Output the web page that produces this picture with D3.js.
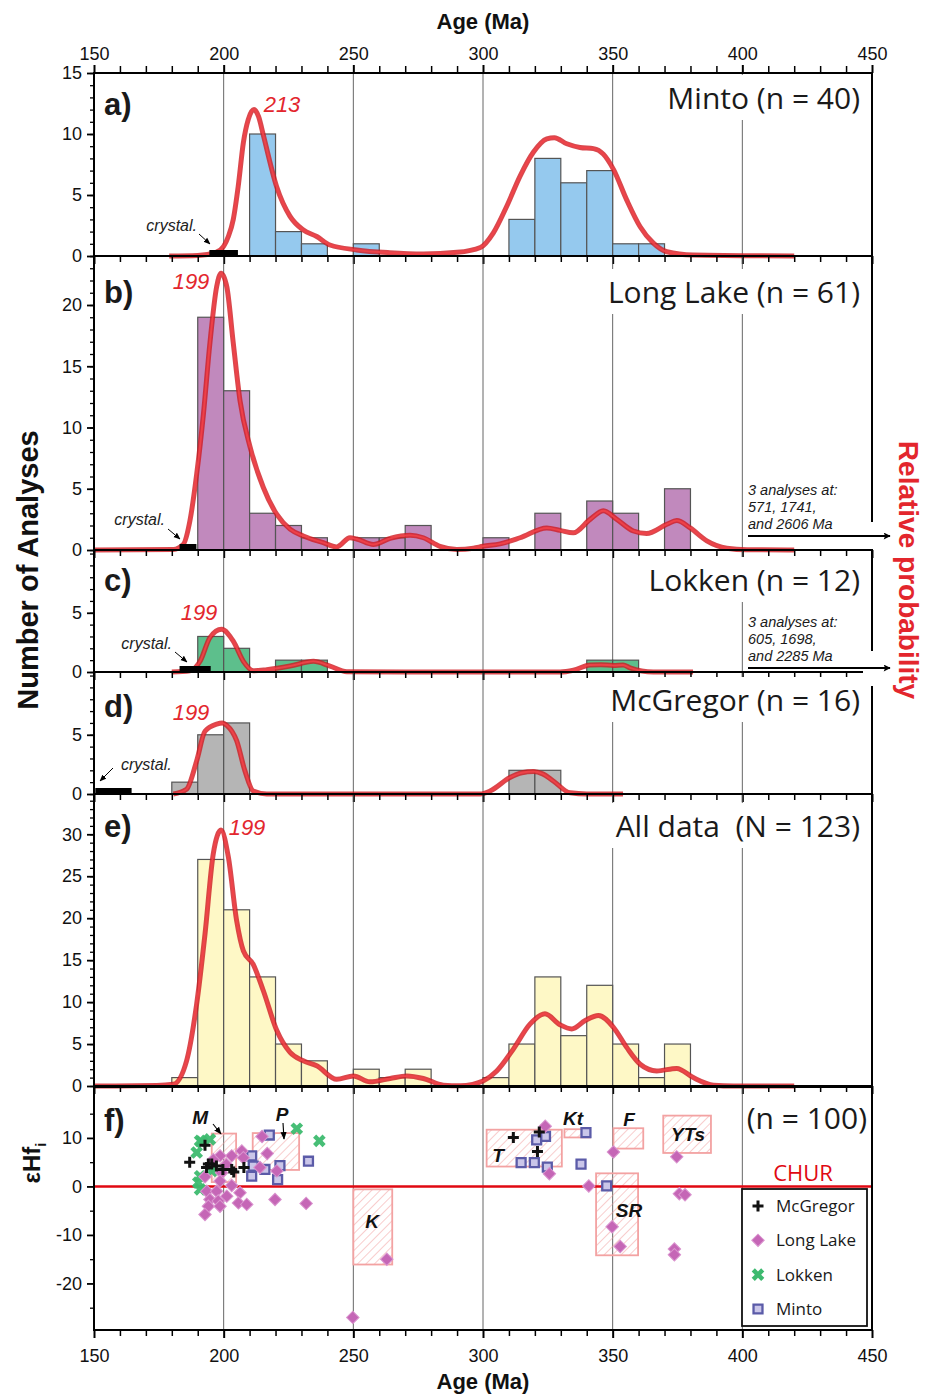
<!DOCTYPE html>
<html>
<head>
<meta charset="utf-8">
<script src="https://cdn.jsdelivr.net/npm/d3@7"></script>
<style>
  body { margin: 0; background: #fff; }
  svg { display: block; }
  text { font-family: "Liberation Sans", Arial, sans-serif; }
</style>
</head>
<body>
<svg id="chart" width="932" height="1395"></svg>
<script>
// ---- data ----
const ageTicks = [150, 200, 250, 300, 350, 400, 450];

// histogram bins: start age (10 Ma wide) and number of analyses
const mintoStart = [210, 220, 230, 250, 310, 320, 330, 340, 350, 360];
const mintoCount = [10, 2, 1, 1, 3, 8, 6, 7, 1, 1];
const longLakeStart = [190, 200, 210, 220, 230, 250, 260, 270, 300, 320, 340, 350, 370];
const longLakeCount = [19, 13, 3, 2, 1, 1, 1, 2, 1, 3, 4, 3, 5];
const lokkenStart = [190, 200, 220, 230, 340, 350];
const lokkenCount = [3, 2, 1, 1, 1, 1];
const mcgregorStart = [180, 190, 200, 310, 320];
const mcgregorCount = [1, 5, 6, 2, 2];
const allStart = [180, 190, 200, 210, 220, 230, 250, 260, 270, 300, 310, 320, 330, 340, 350, 360, 370];
const allCount = [1, 27, 21, 13, 5, 3, 2, 1, 2, 1, 5, 13, 6, 12, 5, 1, 5];

// probability curves [age, height in count units]
const mintoCurve = [[179,0],[190,0.05],[197,0.3],[200,0.8],[201.8,1.6],[203.7,3],[205.6,5.7],[207.6,9.3],[209.5,11.2],[211.7,12],[213.5,11.4],[215.3,9.9],[220.4,5.7],[225.6,3.25],[230.6,2.15],[235.9,1.6],[241,0.9],[251.3,0.5],[264,0.27],[277,0.17],[290,0.3],[299,0.7],[304,1.9],[309.2,4.1],[314.3,6.55],[319.4,8.5],[324.6,9.6],[327.5,9.7],[332.3,9.2],[337.4,8.9],[342.6,8.8],[346.4,8.35],[350.3,7.1],[355.4,4.6],[360.6,2.4],[365.7,1.05],[370.9,0.35],[381,0.08],[420,0]];
const longLakeCurve = [[150,0],[180.6,0.05],[184.4,0.45],[187,2.4],[189.6,6.2],[192.2,11.1],[194.7,16.9],[197.3,21.5],[199,22.6],[201.2,21.5],[203.7,16.9],[206.3,12.2],[210.2,8.4],[215.3,5.1],[220.5,2.9],[225.6,1.7],[230.7,1.15],[238.4,0.6],[243.6,0.25],[248.7,1.0],[251.3,0.9],[257.7,0.45],[264.2,0.95],[271.9,1.2],[277,1.0],[283.4,0.3],[289.9,0.05],[296.3,0.15],[300,0.3],[306.6,0.5],[314.3,1.0],[324.6,1.8],[329.7,1.6],[334.8,1.4],[341.3,2.5],[346.4,3.2],[351.6,2.5],[358,1.55],[363.1,1.35],[370.9,2.1],[374.7,2.4],[379.9,1.8],[386.3,0.75],[394,0.15],[401.8,0.02],[420,0]];
const lokkenCurve = [[180,0],[187,0.1],[190.9,0.9],[194.7,2.9],[199.2,3.6],[203.7,2.6],[207.6,0.9],[211.4,0.1],[216.6,0.2],[225.6,0.5],[234.6,0.9],[241,0.5],[247.5,0.02],[300,0],[329.7,0],[334.9,0.15],[341.3,0.6],[345.5,0.62],[350.3,0.55],[354,0.6],[356.7,0.35],[365.7,0],[381,0]];
const mcgregorCurve = [[180.6,0],[185.7,0.4],[189.6,2.8],[192.8,5.3],[197.3,5.9],[199.5,6.0],[201.2,5.8],[205,4.5],[208.2,1.95],[211.4,0.25],[216.6,0],[298.9,0],[302.7,0.25],[310.4,1.4],[315,1.8],[319.4,1.9],[323,1.7],[327.1,1.1],[333.6,0.1],[340,0],[354,0]];
const allCurve = [[150,0],[174.2,0.05],[180.6,0.2],[185.7,3],[189.6,9.8],[192.8,18.1],[196,27.7],[199,30.5],[201.8,27.3],[205,19.7],[207.6,16.1],[211.4,14.5],[215.3,11.35],[220.5,6.6],[225.6,4.0],[230.7,3.0],[235.9,2.4],[243.6,0.8],[250,1.2],[256.4,0.5],[264.2,0.9],[270.6,1.2],[277,0.9],[284.7,0.1],[291.2,0.02],[296,0.2],[300,0.6],[305.3,1.8],[311.7,4.4],[318.2,7.4],[323.9,8.6],[329.7,7.3],[334.2,6.8],[339.4,7.8],[344.5,8.4],[350.3,7.0],[355.4,4.6],[360.6,2.6],[367,1.8],[374.7,2.1],[381.1,1.0],[388.9,0.1],[396.6,0],[420,0]];

// crystallization age ranges [from, to]
const mintoCrystal = [194.5, 205.5];
const longLakeCrystal = [183, 189.5];
const lokkenCrystal = [183, 195];
const mcgregorCrystal = [150.5, 164.5];

// eHf(i) vs age
const hfLokken = [[190.9,9.4],[194.7,9.7],[191.5,9.2],[189.6,7.0],[190.9,2.1],[190.2,0.8],[190.9,-0.6],[195.4,3.2],[228.2,11.9],[236.9,9.4]];
const hfMinto = [[217.6,10.6],[210.8,6.3],[210.8,2.1],[215.9,3.5],[221.7,4.3],[220.8,1.4],[232.7,5.2],[211.4,4.2],[324.1,10.3],[320.7,9.6],[339.7,11.1],[314.7,4.9],[319.8,4.9],[324.8,4.0],[337.8,4.6],[347.7,0.1]];
const hfLongLake = [[214.8,10.3],[216.8,6.8],[207,7.3],[203.1,6.3],[198.6,6.3],[207.6,5.9],[199.2,2.8],[192.8,2.0],[198.6,1.1],[203.1,0.2],[193.5,-1],[197.3,-1],[201.2,-2],[206.3,-1.3],[194.7,-2.7],[197.9,-3],[205.7,-3.4],[208.9,-3.7],[194.1,-4.1],[192.8,-5.8],[198.6,-4.1],[214,3.9],[220.5,3.2],[219.8,-2.7],[231.8,-3.5],[262.9,-15],[249.8,-27],[324,12.4],[325.6,2.6],[340.8,0.1],[350.3,7.1],[349.8,-8.3],[352.9,-12.4],[374.7,6.1],[375.7,-1.5],[377.9,-1.7],[373.8,-12.9],[373.8,-14.1],[201,4.5],[196,5.5]];
const hfMcgregor = [[186.9,5.0],[192.8,8.5],[193.4,3.9],[194.1,4.6],[195.4,4.6],[197.2,4.2],[199.7,3.5],[203.1,3.5],[203.9,3.0],[207.8,3.9],[311.7,10.1],[321.7,11.2],[321.0,7.2]];

// reference fields: name, age range, eHf range
const fieldNames = ['M', 'P', 'K', 'T', 'Kt', 'F', 'YTs', 'SR'];
const fieldAge = [[195.4,204.8],[211.2,229.1],[250,265],[301.4,330.4],[331.4,341.3],[350.3,361.8],[369.5,387.9],[343.6,359.8]];
const fieldHf = [[0.9,10.9],[3.4,11],[-16.1,-0.6],[4.1,11.7],[10.1,11.8],[7.8,12],[6.9,14.6],[-14.2,2.7]];
const fieldLabelAt = [[190.9,14.3],[222.5,14.9],[257.2,-7.2],[305.8,6.4],[334.7,14.1],[356.3,13.9],[379.1,10.8],[356.3,-4.8]];

// ---- drawing ----
const svg = d3.select('#chart');
const L = 94, R = 872;
const x = d3.scaleLinear().domain([150, 450]).range([L, R]);
const red = '#e3262d';
const sans = '"Open Sans", "Noto Sans", sans-serif';
const plain = d => String(d);   // keep ASCII hyphen for negatives

const defs = svg.append('defs');
defs.append('marker').attr('id', 'arr').attr('viewBox', '0 0 10 10').attr('refX', 9).attr('refY', 5)
  .attr('markerWidth', 7).attr('markerHeight', 7).attr('orient', 'auto')
  .append('path').attr('d', 'M0,1 L10,5 L0,9 z').attr('fill', '#000');
defs.append('marker').attr('id', 'bigarr').attr('viewBox', '0 0 10 10').attr('refX', 9).attr('refY', 5)
  .attr('markerWidth', 11).attr('markerHeight', 7).attr('markerUnits', 'userSpaceOnUse')
  .attr('orient', 'auto')
  .append('path').attr('d', 'M0,0 L10,5 L0,10 L2,5 z').attr('fill', '#000');
defs.append('pattern').attr('id', 'hatch').attr('patternUnits', 'userSpaceOnUse')
  .attr('width', 6).attr('height', 6).attr('patternTransform', 'rotate(45)')
  .append('line').attr('x1', 0).attr('y1', 0).attr('x2', 0).attr('y2', 6)
  .attr('stroke', '#f29c9c').attr('stroke-width', 1);

const panels = [
  {letter: 'a)', top: 73, bottom: 256, ymax: 15, labels: [0,5,10,15], start: mintoStart, count: mintoCount,
   curve: mintoCurve, fill: '#95c9ee', title: 'Minto (n = 40)', titleY: 109, letterY: 115,
   peak: '213', peakXY: [282, 112], crystal: mintoCrystal,
   cText: [197, 231, 'end'], cArrow: [199, 234, 210, 244]},
  {letter: 'b)', top: 256, bottom: 550, ymax: 24, labels: [0,5,10,15,20], start: longLakeStart, count: longLakeCount,
   curve: longLakeCurve, fill: '#c189bd', title: 'Long Lake (n = 61)', titleY: 303, letterY: 303,
   peak: '199', peakXY: [191, 289], crystal: longLakeCrystal,
   cText: [165, 525, 'end'], cArrow: [168, 529, 180, 539]},
  {letter: 'c)', top: 550, bottom: 672, ymax: 10.3, labels: [0,5], start: lokkenStart, count: lokkenCount,
   curve: lokkenCurve, fill: '#5dbf8c', title: 'Lokken (n = 12)', titleY: 591, letterY: 591,
   peak: '199', peakXY: [199, 620], crystal: lokkenCrystal,
   cText: [172, 649, 'end'], cArrow: [175, 652, 187, 662]},
  {letter: 'd)', top: 672, bottom: 794, ymax: 10.3, labels: [0,5], start: mcgregorStart, count: mcgregorCount,
   curve: mcgregorCurve, fill: '#b5b5b5', title: 'McGregor (n = 16)', titleY: 711, letterY: 717,
   peak: '199', peakXY: [191, 720], crystal: mcgregorCrystal,
   cText: [121, 770, 'start'], cArrow: [113, 768, 100, 781]},
  {letter: 'e)', top: 794, bottom: 1086, ymax: 34.8, labels: [0,5,10,15,20,25,30], start: allStart, count: allCount,
   curve: allCurve, fill: '#fef8c6', title: 'All data\u00a0\u00a0(N = 123)', titleY: 837, letterY: 837,
   peak: '199', peakXY: [247, 835], crystal: null}
];

function label(g, xx, yy, txt, opts) {
  const t = g.append('text').attr('x', xx).attr('y', yy).text(txt)
    .attr('text-anchor', opts.anchor || 'start')
    .attr('font-size', opts.size).attr('fill', opts.color || '#111')
    .style('font-family', opts.family || null)
    .attr('font-weight', opts.weight || null).attr('font-style', opts.style || null);
  if (opts.bg) {
    const b = t.node().getBBox();
    g.insert('rect', () => t.node()).attr('x', b.x - 4).attr('y', b.y - 2)
      .attr('width', b.width + 8).attr('height', b.height + 4).attr('fill', '#fff');
  }
  return t;
}

function ageGrid(g, y0, y1) {
  g.selectAll('line.grid').data([200, 250, 300, 350, 400]).join('line').attr('class', 'grid')
    .attr('x1', d => x(d)).attr('x2', d => x(d)).attr('y1', y0).attr('y2', y1)
    .attr('stroke', '#555').attr('stroke-width', 0.9);
}

function bottomTicks(g, yy) {
  g.append('g').attr('transform', `translate(0,${yy})`)
    .call(d3.axisBottom(x).tickValues(d3.range(160, 450, 10).filter(v => v % 50)).tickSize(6).tickFormat(''))
    .call(a => a.select('.domain').remove())
    .call(a => a.selectAll('line').attr('stroke', '#000').attr('stroke-width', 1.5));
  g.append('g').attr('transform', `translate(0,${yy})`)
    .call(d3.axisBottom(x).tickValues(ageTicks).tickSize(8).tickFormat(''))
    .call(a => a.select('.domain').remove())
    .call(a => a.selectAll('line').attr('stroke', '#000').attr('stroke-width', 2));
}

const curveLine = d3.line().curve(d3.curveMonotoneX);

panels.forEach(p => {
  const g = svg.append('g');
  const y = d3.scaleLinear().domain([0, p.ymax]).range([p.bottom, p.top]);
  ageGrid(g, p.top, p.bottom);

  g.selectAll('rect.bar').data(p.start).join('rect').attr('class', 'bar')
    .attr('x', d => x(d)).attr('width', d => x(d + 10) - x(d))
    .attr('y', (d, i) => y(p.count[i])).attr('height', (d, i) => y(0) - y(p.count[i]))
    .attr('fill', p.fill).attr('stroke', '#555').attr('stroke-width', 1.2);

  curveLine.x(d => x(d[0])).y(d => y(d[1]));
  g.append('path').attr('d', curveLine(p.curve)).attr('fill', 'none')
    .attr('stroke', '#d01a21').attr('stroke-width', 5).attr('stroke-opacity', 0.8);
  g.append('path').attr('d', curveLine(p.curve)).attr('fill', 'none')
    .attr('stroke', '#f24349').attr('stroke-width', 2).attr('stroke-opacity', 0.9);

  if (p.crystal) {
    g.append('rect').attr('x', x(p.crystal[0])).attr('width', x(p.crystal[1]) - x(p.crystal[0]))
      .attr('y', y(0) - 6).attr('height', 6).attr('fill', '#000');
    label(g, p.cText[0], p.cText[1], 'crystal.', {size: 16, style: 'italic', anchor: p.cText[2], color: '#222'});
    g.append('line').attr('x1', p.cArrow[0]).attr('y1', p.cArrow[1]).attr('x2', p.cArrow[2]).attr('y2', p.cArrow[3])
      .attr('stroke', '#000').attr('stroke-width', 1).attr('marker-end', 'url(#arr)');
  }

  label(g, 860, p.titleY, p.title, {size: 30, anchor: 'end', family: sans, bg: true, color: '#1a1a1a'});
  label(g, 104, p.letterY, p.letter, {size: 31, weight: 'bold', color: '#1a1a1a'});
  label(g, p.peakXY[0], p.peakXY[1], p.peak, {size: 22, style: 'italic', anchor: 'middle', color: red});

  g.append('rect').attr('x', L).attr('y', p.top).attr('width', R - L).attr('height', p.bottom - p.top)
    .attr('fill', 'none').attr('stroke', '#000').attr('stroke-width', 2);

  // left axis: minor each count, major every 5
  g.append('g').attr('transform', `translate(${L},0)`)
    .call(d3.axisLeft(y).tickValues(d3.range(0, Math.floor(p.ymax) + 1)).tickSize(4).tickFormat(''))
    .call(a => a.select('.domain').remove())
    .call(a => a.selectAll('line').attr('stroke', '#000').attr('stroke-width', 1.3));
  g.append('g').attr('transform', `translate(${L},0)`)
    .call(d3.axisLeft(y).tickValues(p.labels).tickSize(7).tickPadding(5).tickFormat(plain))
    .call(a => a.select('.domain').remove())
    .call(a => a.selectAll('line').attr('stroke', '#000').attr('stroke-width', 1.8))
    .call(a => a.selectAll('text').attr('font-size', 18).attr('fill', '#111')
      .style('font-family', '"Liberation Sans", Arial, sans-serif'));

  bottomTicks(g, p.bottom);
});

// top axis
const topAxis = svg.append('g');
topAxis.append('g').attr('transform', 'translate(0,73)')
  .call(d3.axisTop(x).tickValues(d3.range(160, 450, 10).filter(v => v % 50)).tickSize(7).tickFormat(''))
  .call(a => a.select('.domain').remove())
  .call(a => a.selectAll('line').attr('stroke', '#000').attr('stroke-width', 1.5));
topAxis.append('g').attr('transform', 'translate(0,73)')
  .call(d3.axisTop(x).tickValues(ageTicks).tickSize(8).tickPadding(5).tickFormat(plain))
  .call(a => a.select('.domain').remove())
  .call(a => a.selectAll('line').attr('stroke', '#000').attr('stroke-width', 2))
  .call(a => a.selectAll('text').attr('font-size', 18).attr('fill', '#111')
    .style('font-family', '"Liberation Sans", Arial, sans-serif'));
label(topAxis, 483, 29, 'Age (Ma)', {size: 22, weight: 'bold', anchor: 'middle'});

// ---- panel f: eHf ----
const fTop = 1087, fBottom = 1330;
const yf = d3.scaleLinear().domain([-29.6, 20.5]).range([fBottom, fTop]);
const f = svg.append('g');
ageGrid(f, fTop, fBottom);

fieldNames.forEach((n, i) => {
  f.append('rect').attr('x', x(fieldAge[i][0])).attr('width', x(fieldAge[i][1]) - x(fieldAge[i][0]))
    .attr('y', yf(fieldHf[i][1])).attr('height', yf(fieldHf[i][0]) - yf(fieldHf[i][1]))
    .attr('fill', 'url(#hatch)').attr('stroke', '#f3a2a2').attr('stroke-width', 1.8);
});

f.append('line').attr('x1', L).attr('x2', R).attr('y1', yf(0)).attr('y2', yf(0))
  .attr('stroke', '#e00812').attr('stroke-width', 2.6);

const sq = d3.symbol().type(d3.symbolSquare);
const crossPath = d3.symbol().type(d3.symbolCross).size(100)();
f.selectAll('path.lok').data(hfLokken).join('path').attr('class', 'lok')
  .attr('d', crossPath)
  .attr('transform', d => `translate(${x(d[0])},${yf(d[1])}) rotate(45)`)
  .attr('fill', '#3dba6f').attr('fill-opacity', 0.95);
f.selectAll('path.min').data(hfMinto).join('path').attr('class', 'min')
  .attr('d', sq.size(80)())
  .attr('transform', d => `translate(${x(d[0])},${yf(d[1])})`)
  .attr('fill', '#cac6e9').attr('stroke', '#5b5ba8').attr('stroke-width', 2.3);
f.selectAll('path.ll').data(hfLongLake).join('path').attr('class', 'll')
  .attr('d', sq.size(78)())
  .attr('transform', d => `translate(${x(d[0])},${yf(d[1])}) rotate(45)`)
  .attr('fill', '#c566b6').attr('stroke', '#da95cf').attr('stroke-width', 1);
f.selectAll('path.mcg').data(hfMcgregor).join('path').attr('class', 'mcg')
  .attr('d', 'M-5.5,0H5.5M0,-5.5V5.5')
  .attr('transform', d => `translate(${x(d[0])},${yf(d[1])})`)
  .attr('stroke', '#111').attr('stroke-width', 3);

fieldNames.forEach((n, i) => {
  label(f, x(fieldLabelAt[i][0]), yf(fieldLabelAt[i][1]) + 7, n,
    {size: 19, weight: 'bold', style: 'italic', anchor: 'middle', color: '#111'});
});
f.append('line').attr('x1', 213).attr('y1', 1124).attr('x2', 221).attr('y2', 1134)
  .attr('stroke', '#000').attr('stroke-width', 1.1).attr('marker-end', 'url(#arr)');
f.append('line').attr('x1', 283).attr('y1', 1123).attr('x2', 284).attr('y2', 1139)
  .attr('stroke', '#000').attr('stroke-width', 1.1).attr('marker-end', 'url(#arr)');

label(f, 867, 1129, '(n = 100)', {size: 30, anchor: 'end', family: sans, color: '#1a1a1a'});
label(f, 803, 1181, 'CHUR', {size: 22, anchor: 'middle', family: sans, color: '#e00812'});
label(f, 104, 1131, 'f)', {size: 31, weight: 'bold', color: '#1a1a1a'});

f.append('rect').attr('x', L).attr('y', fTop).attr('width', R - L).attr('height', fBottom - fTop)
  .attr('fill', 'none').attr('stroke', '#000').attr('stroke-width', 2);

f.append('g').attr('transform', `translate(${L},0)`)
  .call(d3.axisLeft(yf).tickValues([-25, -15, -5, 5, 15]).tickSize(4).tickFormat(''))
  .call(a => a.select('.domain').remove())
  .call(a => a.selectAll('line').attr('stroke', '#000').attr('stroke-width', 1.3));
f.append('g').attr('transform', `translate(${L},0)`)
  .call(d3.axisLeft(yf).tickValues([-20, -10, 0, 10]).tickSize(7).tickPadding(5).tickFormat(plain))
  .call(a => a.select('.domain').remove())
  .call(a => a.selectAll('line').attr('stroke', '#000').attr('stroke-width', 1.8))
  .call(a => a.selectAll('text').attr('font-size', 18).attr('fill', '#111')
    .style('font-family', '"Liberation Sans", Arial, sans-serif'));

bottomTicks(f, fBottom);
f.append('g').attr('transform', `translate(0,${fBottom})`)
  .call(d3.axisBottom(x).tickValues(ageTicks).tickSize(0).tickPadding(19).tickFormat(plain))
  .call(a => a.select('.domain').remove())
  .call(a => a.selectAll('text').attr('font-size', 18).attr('fill', '#111')
    .style('font-family', '"Liberation Sans", Arial, sans-serif'));
label(f, 483, 1389, 'Age (Ma)', {size: 22, weight: 'bold', anchor: 'middle'});

// eHf axis title
const ht = f.append('text').attr('transform', 'translate(40,1163) rotate(-90)')
  .attr('text-anchor', 'middle').attr('font-size', 24).attr('font-weight', 'bold').attr('fill', '#111');
ht.append('tspan').text('εHf');
ht.append('tspan').text('i').attr('font-size', 15).attr('dy', 6);

// legend
const legNames = ['McGregor', 'Long Lake', 'Lokken', 'Minto'];
const leg = f.append('g');
leg.append('rect').attr('x', 742).attr('y', 1189).attr('width', 125).attr('height', 137)
  .attr('fill', '#fff').attr('stroke', '#111').attr('stroke-width', 1.8);
const legY = d3.scalePoint().domain(legNames).range([1206, 1309]);
leg.append('path').attr('d', 'M-5.5,0H5.5M0,-5.5V5.5').attr('transform', `translate(758,${legY('McGregor')})`)
  .attr('stroke', '#111').attr('stroke-width', 3);
leg.append('path').attr('d', sq.size(78)()).attr('transform', `translate(758,${legY('Long Lake')}) rotate(45)`)
  .attr('fill', '#c566b6').attr('stroke', '#da95cf');
leg.append('path').attr('d', crossPath)
  .attr('transform', `translate(758,${legY('Lokken')}) rotate(45)`).attr('fill', '#3dba6f');
leg.append('path').attr('d', sq.size(80)()).attr('transform', `translate(758,${legY('Minto')})`)
  .attr('fill', '#cac6e9').attr('stroke', '#5b5ba8').attr('stroke-width', 2.3);
legNames.forEach(n => label(leg, 776, legY(n) + 6, n, {size: 17, family: sans, color: '#1a1a1a'}));

// out-of-range notes with arrows through the right border
const notes = [
  {y: 536, lines: ['3 analyses at:', '571, 1741,', 'and 2606 Ma'], gap: [522, 549]},
  {y: 668, lines: ['3 analyses at:', '605, 1698,', 'and 2285 Ma'], gap: [651, 686]}
];
notes.forEach(n => {
  svg.append('rect').attr('x', 863).attr('y', n.gap[0]).attr('width', 16).attr('height', n.gap[1] - n.gap[0])
    .attr('fill', '#fff');
  n.lines.forEach((t, i) => label(svg, 748, n.y - 41 + i * 17, t,
    {size: 14.5, style: 'italic', color: '#1a1a1a'}));
  svg.append('line').attr('x1', 748).attr('x2', 890).attr('y1', n.y).attr('y2', n.y)
    .attr('stroke', '#000').attr('stroke-width', 1.8).attr('marker-end', 'url(#bigarr)');
});

// axis titles
svg.append('text').attr('transform', 'translate(38,570) rotate(-90)').attr('text-anchor', 'middle')
  .attr('font-size', 29).attr('font-weight', 'bold').attr('fill', '#111').text('Number of Analyses');
svg.append('text').attr('transform', 'translate(899,570) rotate(90)').attr('text-anchor', 'middle')
  .attr('font-size', 28).attr('font-weight', 'bold').attr('fill', red).text('Relative probability');
</script>
</body>
</html>
